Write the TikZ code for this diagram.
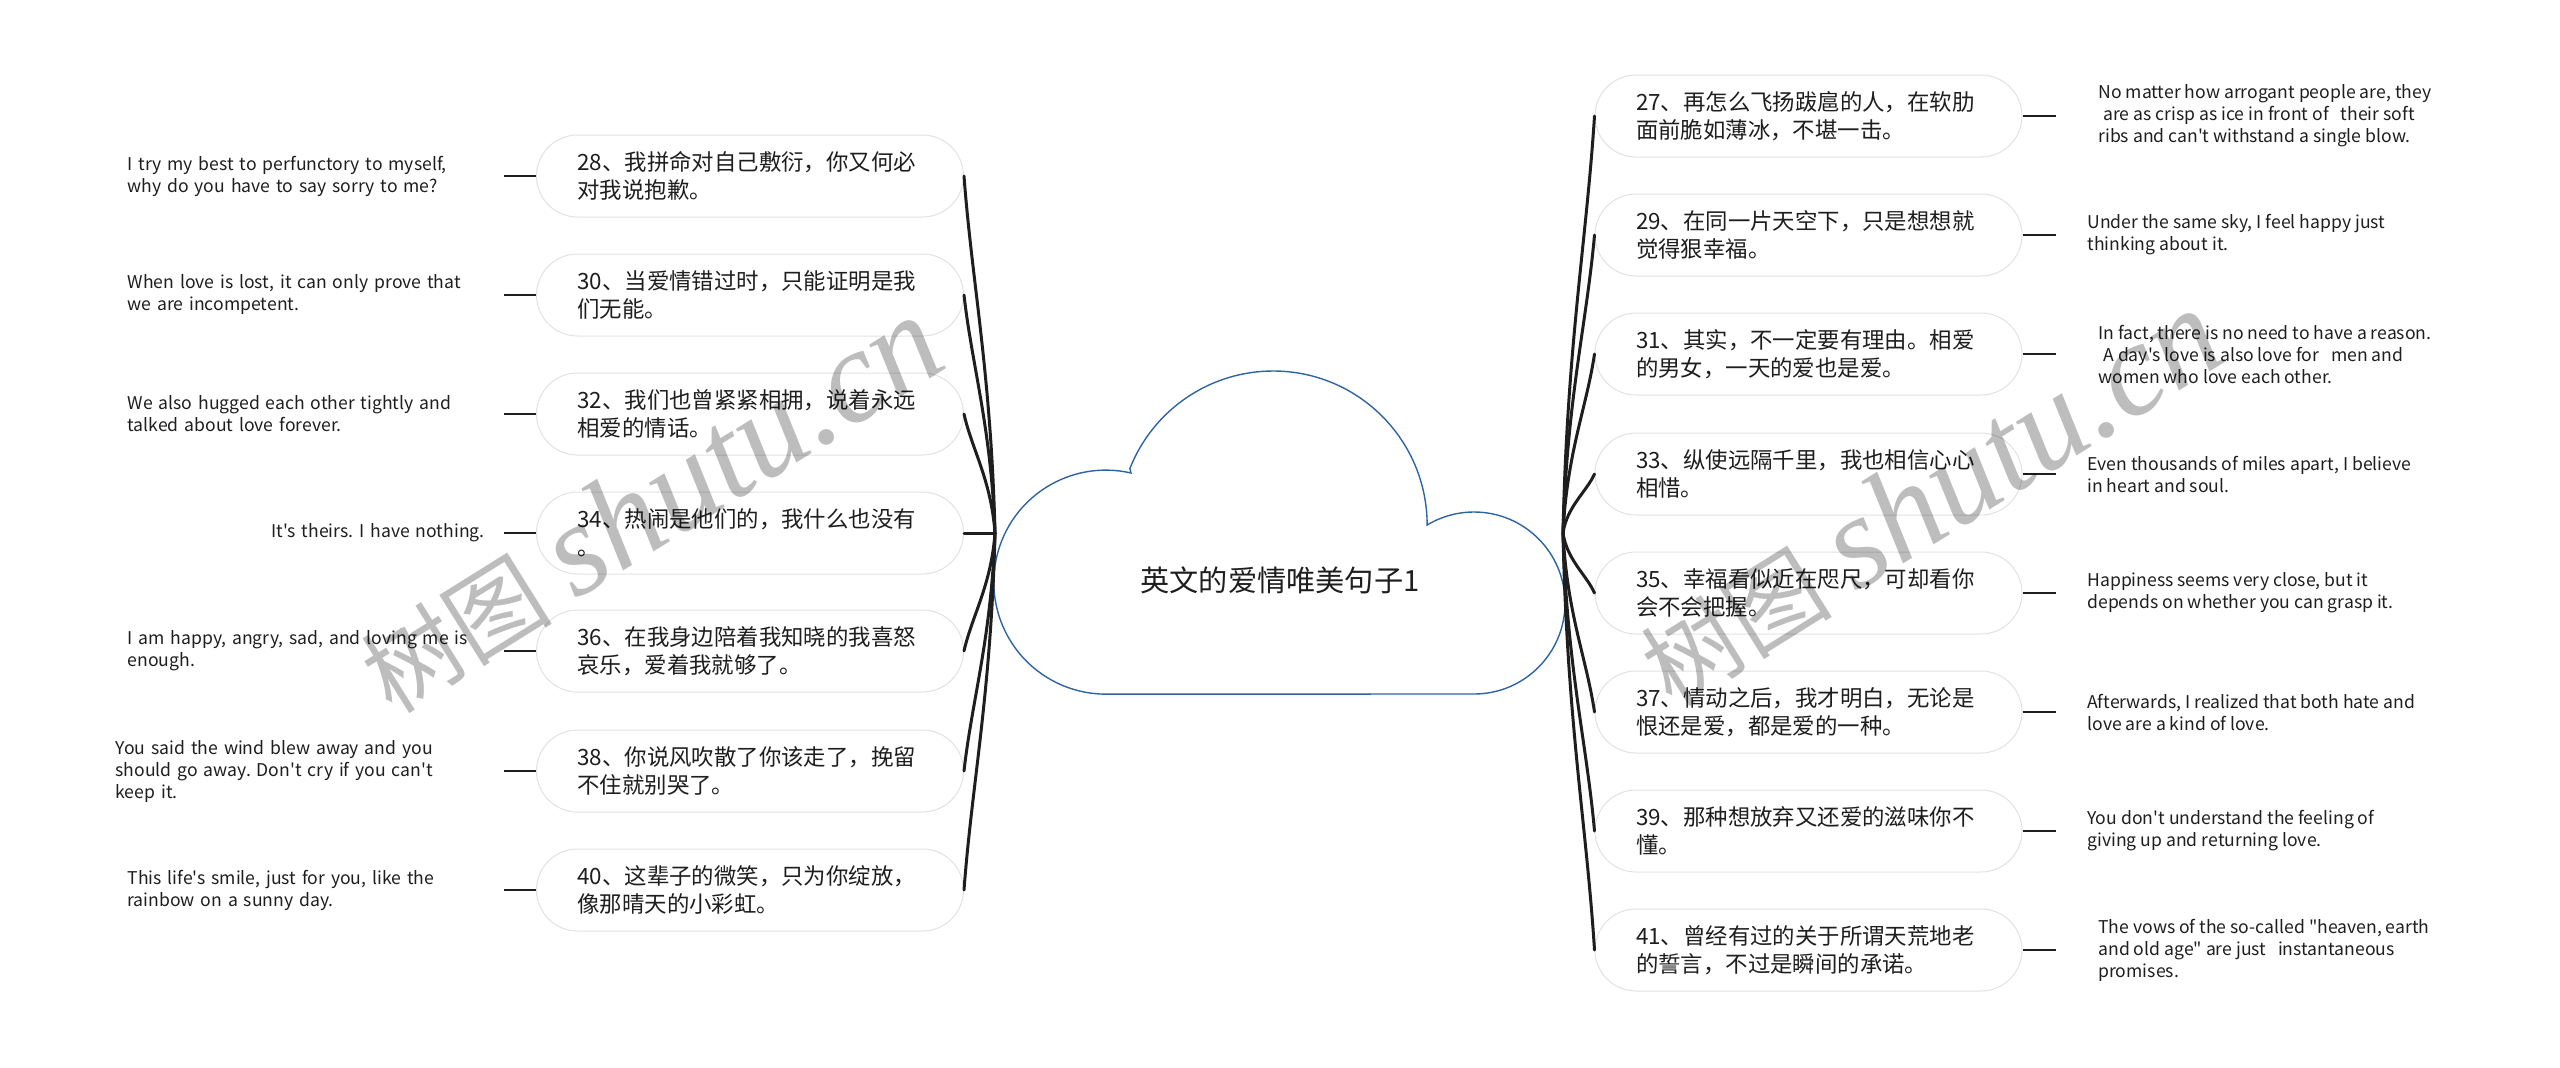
\documentclass[tikz,border=0pt]{standalone}
\usepackage{fontspec}
\setmainfont{Noto Sans CJK SC}[Ligatures=TeXOff]
\newfontfamily\marklatin{Liberation Serif}
\usepackage{tikz}
\usetikzlibrary{positioning,calc}
\frenchspacing

\definecolor{cloudblue}{HTML}{2F64A3}
\definecolor{boxgray}{HTML}{E2E2E2}
\definecolor{ink}{HTML}{1E1E1E}

\tikzset{
  cloudline/.style={draw=cloudblue, line width=0.7pt, fill=white},
  title/.style={font=\fontsize{14.6}{16}\selectfont, text=ink},
  topic/.style={draw=boxgray, line width=0.5pt, fill=white, rounded corners=20.5pt,
    minimum height=41pt, text width=172.5pt, inner xsep=20.5pt, inner ysep=0pt,
    align=left, text=ink, font=\fontsize{11.2}{14}\selectfont},
  leaf/.style={inner ysep=0pt, align=left, text=ink, font=\fontsize{8.8}{11}\selectfont},
  leafL/.style={leaf, anchor=east, text width=178.5pt, inner xsep=9.5pt},
  leafR/.style={leaf, anchor=west, inner xsep=15.5pt},
  branch/.style={draw=ink, line width=1.5pt, line cap=round},
  twig/.style={draw=ink, line width=1.2pt},
  watermark/.style={rotate=32, text=black, text opacity=0.26, font=\fontsize{48}{48}\selectfont}
}

\begin{document}
\begin{tikzpicture}[x=0.5pt, y=-0.5pt]
  \useasboundingbox (0,0) rectangle (2560,1067);

  % central topic
  \draw[cloudline] (1131,473) arc[start angle=-77, end angle=-270, radius=112]
    -- (1474,694) arc[start angle=90, end angle=-121, radius=91]
    arc[start angle=0, end angle=-158.5, radius=154] -- cycle;
  \node[title] (title) at (1280,580) {英文的爱情唯美句子1};
  \coordinate (rootL) at (995,533);
  \coordinate (rootR) at (1563,533);

  % left topics
  \foreach \n/\y/\txt in {
      28/176/{28、我拼命对自己敷衍，你又何必\\对我说抱歉。},
      30/295/{30、当爱情错过时，只能证明是我\\们无能。},
      32/414/{32、我们也曾紧紧相拥，说着永远\\相爱的情话。},
      34/533/{34、热闹是他们的，我什么也没有\\。},
      36/651/{36、在我身边陪着我知晓的我喜怒\\哀乐，爱着我就够了。},
      38/771/{38、你说风吹散了你该走了，挽留\\不住就别哭了。},
      40/890/{40、这辈子的微笑，只为你绽放，\\像那晴天的小彩虹。}} {
    \node[topic] (n\n) at (750,\y) {\txt};
    \draw[branch] (rootL) .. controls ($(rootL)+(-4,{0.45*(\y-533)})$)
      and ($(n\n.east)+(8,{-0.3*(\y-533)})$) .. (n\n.east);
  }

  % right topics
  \foreach \n/\y/\txt in {
      27/116/{27、再怎么飞扬跋扈的人，在软肋\\面前脆如薄冰，不堪一击。},
      29/235/{29、在同一片天空下，只是想想就\\觉得狠幸福。},
      31/354/{31、其实，不一定要有理由。相爱\\的男女，一天的爱也是爱。},
      33/474/{33、纵使远隔千里，我也相信心心\\相惜。},
      35/593/{35、幸福看似近在咫尺，可却看你\\会不会把握。},
      37/712/{37、情动之后，我才明白，无论是\\恨还是爱，都是爱的一种。},
      39/831/{39、那种想放弃又还爱的滋味你不\\懂。},
      41/950/{41、曾经有过的关于所谓天荒地老\\的誓言，不过是瞬间的承诺。}} {
    \node[topic] (n\n) at (1808.5,\y) {\txt};
    \draw[branch] (rootR) .. controls ($(rootR)+(4,{0.45*(\y-533)})$)
      and ($(n\n.west)+(-8,{-0.3*(\y-533)})$) .. (n\n.west);
  }

  % left leaves
  \node[leafL] (l28) at (504,176) {I try my best to perfunctory to myself,\\why do you have to say sorry to me?};
  \node[leafL] (l30) at (504,295) {When love is lost, it can only prove that\\we are incompetent.};
  \node[leafL] (l32) at (504,414) {We also hugged each other tightly and\\talked about love forever.};
  \node[leafL, align=right] (l34) at (504,533) {It's theirs. I have nothing.};
  \node[leafL] (l36) at (504,651) {I am happy, angry, sad, and loving me is\\enough.};
  \node[leafL, text width=184.5pt] (l38) at (504,771) {You said the wind blew away and you\\should go away. Don't cry if you can't\\keep it.};
  \node[leafL] (l40) at (504,890) {This life's smile, just for you, like the\\rainbow on a sunny day.};

  % right leaves
  \node[leafR, inner xsep=21pt] (r27) at (2056,116) {No matter how arrogant people are, they\\\hspace*{2.5pt}are as crisp as ice in front of\ \ \ their soft\\ribs and can't withstand a single blow.};
  \node[leafR] (r29) at (2056,235) {Under the same sky, I feel happy just\\thinking about it.};
  \node[leafR, inner xsep=21pt] (r31) at (2056,354) {In fact, there is no need to have a reason.\\\hspace*{2.5pt}A day's love is also love for\ \ \ men and\\women who love each other.};
  \node[leafR] (r33) at (2056,474) {Even thousands of miles apart, I believe\\in heart and soul.};
  \node[leafR] (r35) at (2056,593) {Happiness seems very close, but it\\depends on whether you can grasp it.};
  \node[leafR] (r37) at (2056,712) {Afterwards, I realized that both hate and\\love are a kind of love.};
  \node[leafR] (r39) at (2056,831) {You don't understand the feeling of\\giving up and returning love.};
  \node[leafR, inner xsep=21pt] (r41) at (2056,950) {The vows of the so-called "heaven, earth\\and old age" are just\ \ \ instantaneous\\promises.};

  \foreach \n in {28,30,...,40}
    \draw[twig] (l\n.east) -- (n\n.west);
  \foreach \n in {27,29,...,41}
    \draw[twig] (n\n.east) -- (r\n.west);

  % watermarks
  \node[watermark] (markL) at (650,505) {树图\hspace{0.25em}{\marklatin\itshape\fontsize{66}{66}\selectfont shutu.cn}};
  \node[watermark] (markR) at (1930,498) {树图\hspace{0.25em}{\marklatin\itshape\fontsize{66}{66}\selectfont shutu.cn}};
\end{tikzpicture}
\end{document}
